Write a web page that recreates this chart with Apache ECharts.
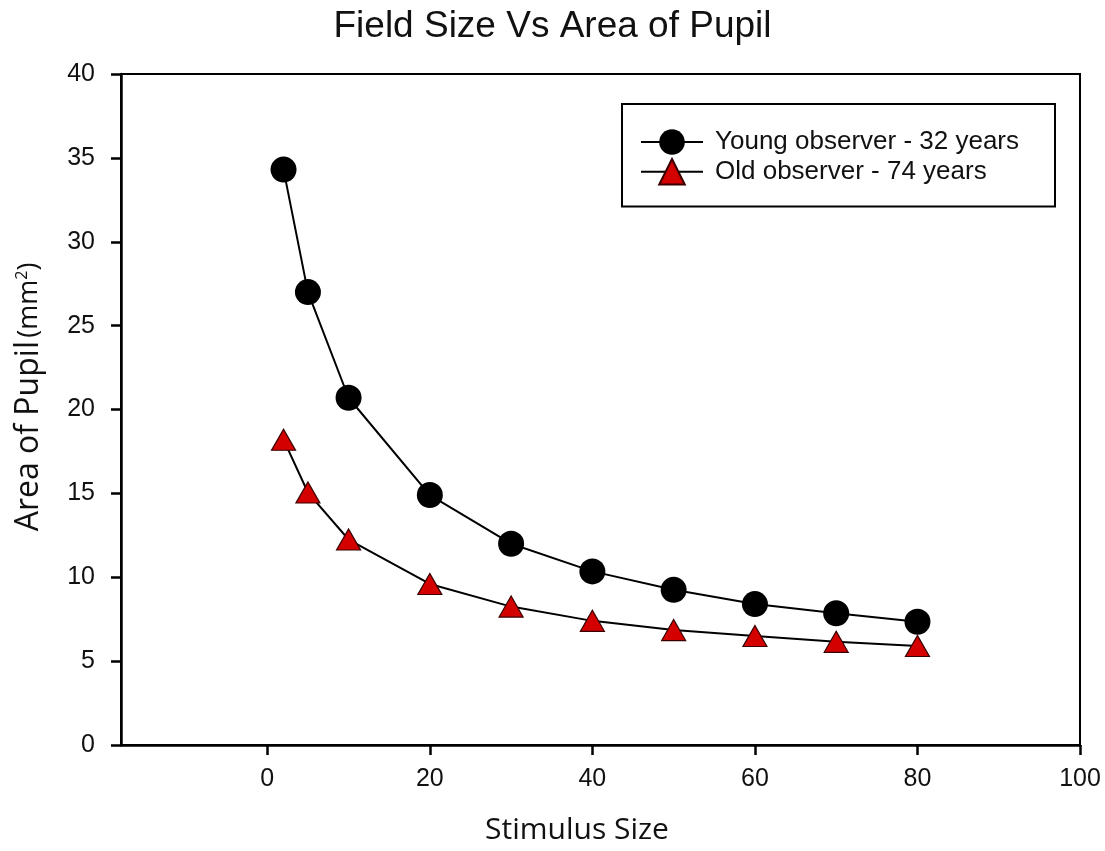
<!DOCTYPE html>
<html>
<head>
<meta charset="utf-8">
<title>Field Size Vs Area of Pupil</title>
<script src="https://cdn.jsdelivr.net/npm/echarts@6/dist/echarts.min.js"></script>
<style>
  html, body { margin: 0; padding: 0; background: #ffffff; }
  #chart { width: 1105px; height: 851px; }
</style>
</head>
<body>
<div id="chart"></div>
<script>
// Stimulus sizes shared by both observers
const stimulusSizes = [2, 5, 10, 20, 30, 40, 50, 60, 70, 80];
// Pupil area (mm²) per stimulus size
const youngArea = [34.3, 27.0, 20.7, 14.9, 12.0, 10.35, 9.25, 8.4, 7.85, 7.35];
const oldArea = [18.2, 15.05, 12.25, 9.6, 8.25, 7.4, 6.85, 6.5, 6.15, 5.9];
const seriesNames = ['Young observer - 32 years', 'Old observer - 74 years'];
const xTicks = [0, 20, 40, 60, 80, 100];

const pair = (xs, ys) => xs.map((x, i) => [x, ys[i]]);

const chart = echarts.init(document.getElementById('chart'), null, { renderer: 'canvas' });

chart.setOption({
  backgroundColor: '#ffffff',
  animation: false,
  title: {
    text: 'Field Size Vs Area of Pupil',
    left: 'center',
    top: 3,
    textStyle: { fontFamily: 'Liberation Sans, Arial, sans-serif', fontSize: 37, fontWeight: 'normal', color: '#111111' }
  },
  grid: {
    left: 121, right: 25, top: 74, bottom: 106,
    show: true, borderColor: '#000000', borderWidth: 2, backgroundColor: 'transparent'
  },
  legend: {
    orient: 'vertical',
    left: 622, top: 104,
    padding: [25, 36, 21, 18],
    itemWidth: 62, itemHeight: 32, itemGap: 3,
    borderColor: '#000000', borderWidth: 2,
    selectedMode: false,
    textStyle: { fontFamily: 'Liberation Sans, Arial, sans-serif', fontSize: 26, color: '#111111', padding: [0, 0, 0, 7] },
    data: seriesNames
  },
  xAxis: {
    type: 'value',
    min: -18, max: 100,
    axisLine: { show: true, onZero: false, lineStyle: { color: '#000000', width: 2.5 } },
    axisTick: { show: true, inside: false, length: 10, customValues: xTicks, lineStyle: { color: '#000000', width: 2.5 } },
    axisLabel: { customValues: xTicks, margin: 22, fontFamily: 'Liberation Sans, Arial, sans-serif', fontSize: 25, color: '#111111' },
    splitLine: { show: false }
  },
  yAxis: {
    type: 'value',
    min: 0, max: 40, interval: 5,
    axisLine: { show: true, onZero: false, lineStyle: { color: '#000000', width: 2.5 } },
    axisTick: { show: true, inside: false, length: 10, lineStyle: { color: '#000000', width: 2.5 } },
    axisLabel: { margin: 26, fontFamily: 'Liberation Sans, Arial, sans-serif', fontSize: 25, color: '#111111' },
    splitLine: { show: false }
  },
  graphic: [
    {
      type: 'text',
      x: 577, y: 830,
      style: {
        text: 'Stimulus Size',
        font: '30px "Open Sans", sans-serif',
        fill: '#111111',
        textAlign: 'center',
        textVerticalAlign: 'middle'
      }
    },
    {
      type: 'text',
      x: 29, y: 397,
      rotation: Math.PI / 2,
      style: {
        text: '{a|Area of Pupil} {b|(mm}{c|2}{b|)}',
        textAlign: 'center',
        textVerticalAlign: 'middle',
        fill: '#111111',
        rich: {
          a: { font: '32px "Open Sans", sans-serif', fill: '#111111' },
          b: { font: '27px "Open Sans", sans-serif', fill: '#111111' },
          c: { font: '16px "Open Sans", sans-serif', fill: '#111111', padding: [0, 0, 13, 0] }
        }
      }
    }
  ],
  series: [
    {
      name: seriesNames[0],
      type: 'line',
      data: pair(stimulusSizes, youngArea),
      symbol: 'circle',
      symbolSize: 26,
      z: 3,
      lineStyle: { color: '#000000', width: 2 },
      itemStyle: { color: '#000000', borderColor: '#000000', borderWidth: 0 }
    },
    {
      name: seriesNames[1],
      type: 'line',
      data: pair(stimulusSizes, oldArea),
      symbol: 'triangle',
      symbolSize: [24, 21],
      z: 2,
      lineStyle: { color: '#000000', width: 2 },
      itemStyle: { color: '#d40000', borderColor: '#3a0000', borderWidth: 1.2 }
    }
  ]
});
</script>
</body>
</html>
